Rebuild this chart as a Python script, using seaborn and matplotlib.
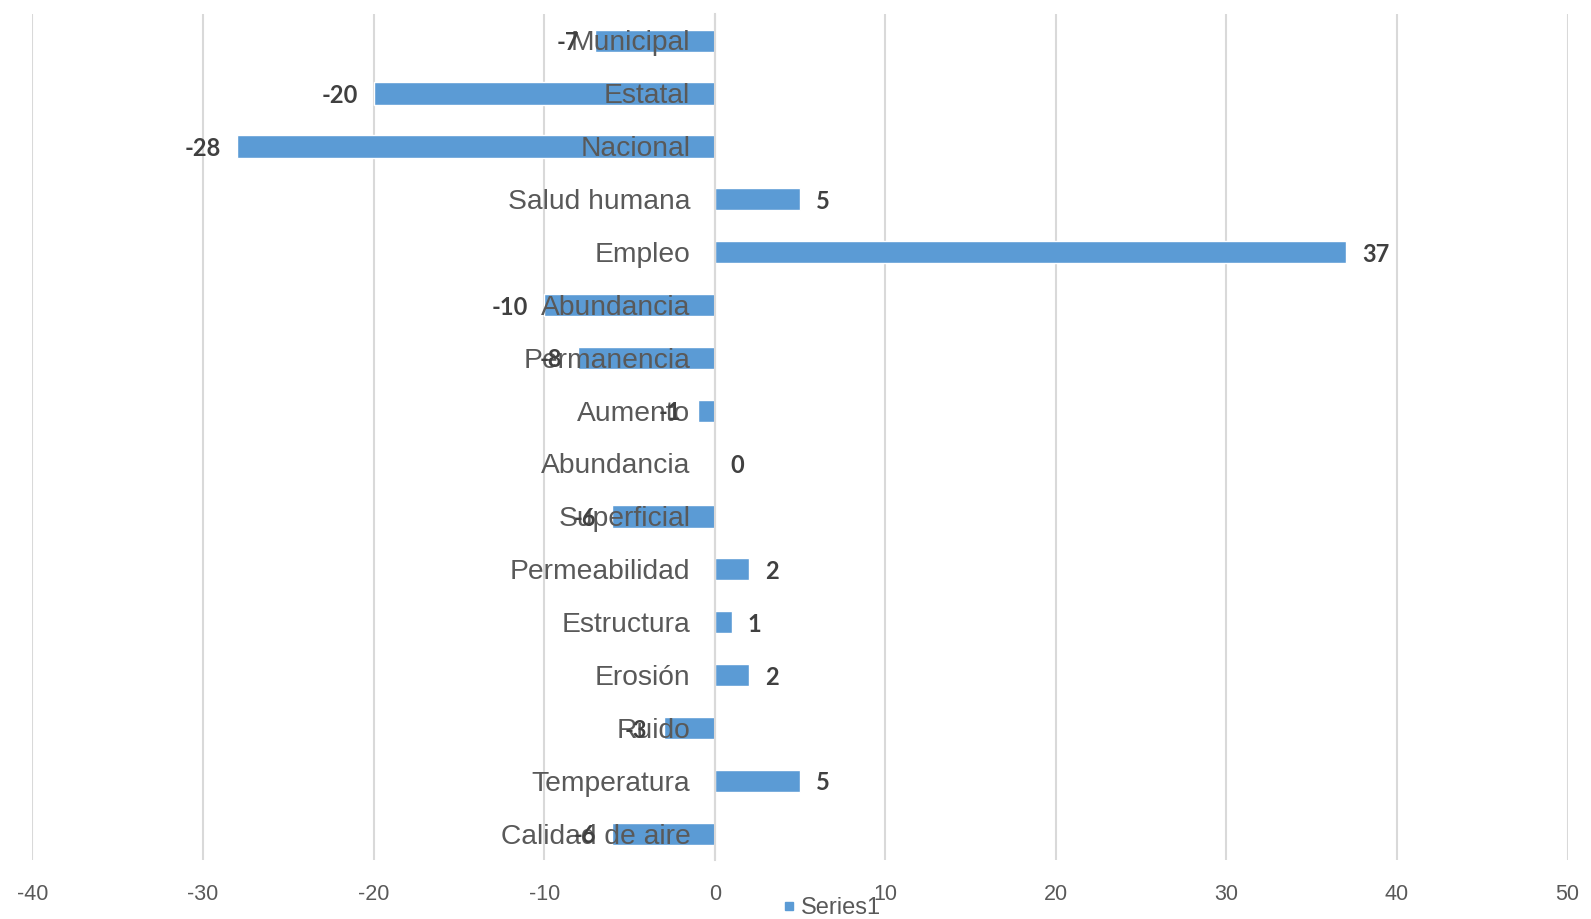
import matplotlib
matplotlib.use("Agg")
import matplotlib.pyplot as plt
from matplotlib.lines import Line2D
import numpy as np
import pandas as pd
import seaborn as sns

# Categories listed from top to bottom of the chart
categories = ["Municipal", "Estatal", "Nacional", "Salud humana", "Empleo",
              "Abundancia", "Permanencia", "Aumento", "Abundancia", "Superficial",
              "Permeabilidad", "Estructura", "Erosión", "Ruido", "Temperatura",
              "Calidad de aire"]
values = [-7, -20, -28, 5, 37, -10, -8, -1, 0, -6, 2, 1, 2, -3, 5, -6]
x_ticks = [-40, -30, -20, -10, 0, 10, 20, 30, 40, 50]
series_name = "Series1"

BAR = "#5b9bd5"
GRID = "#d9d9d9"
TXT = "#595959"

sns.set_theme(style="white")
plt.rcParams["font.family"] = ["Liberation Sans", "DejaVu Sans"]

df = pd.DataFrame({"pos": np.arange(len(categories)), "value": values})

fig = plt.figure(figsize=(15.91, 9.19), dpi=100)
ax = fig.add_axes([0.0204, 0.064, 0.9649, 0.9205])

sns.barplot(data=df, x="value", y="pos", orient="h", color=BAR,
            saturation=1, width=0.42, ax=ax)

ax.set_xlim(-40, 50)
ax.set_ylim(len(categories) - 0.5, -0.5)
ax.set_xticks(x_ticks)
ax.set_xticklabels([str(t) for t in x_ticks], fontsize=15.5, color=TXT)
ax.tick_params(axis="x", length=0, pad=17)
ax.grid(axis="x", color=GRID, linewidth=1.5)
ax.set_axisbelow(True)
ax.set_xlabel("")
ax.set_ylabel("")

for side in ["top", "right", "bottom"]:
    ax.spines[side].set_visible(False)
ax.spines["left"].set_position(("data", 0))
ax.spines["left"].set_color(GRID)
ax.spines["left"].set_linewidth(1.5)
ax.spines["left"].set_zorder(3)

# Tick marks at category boundaries on the zero line
ax.set_yticks(np.arange(len(categories)))
ax.set_yticklabels([])
ax.set_yticks(np.arange(len(categories) + 1) - 0.5, minor=True)
ax.tick_params(axis="y", which="major", length=0)
ax.tick_params(axis="y", which="minor", length=5, width=1.5, color=GRID,
               direction="out")

# Category names right-aligned against the zero line, drawn over the bars
for i, name in enumerate(categories):
    ax.annotate(name, xy=(0, i), xytext=(-17.6, -2), textcoords="offset points",
                ha="right", va="center", fontsize=20.3, color=TXT, zorder=5)

# Value labels at bar ends
for cont in ax.containers:
    labels = ax.bar_label(cont, labels=[str(v) for v in values], padding=11.5,
                          fontsize=17, fontweight="bold", color="#404040",
                          family=["Lato", "DejaVu Sans"])
    for t in labels:
        t.set_zorder(6)
        dx, dy = t.xyann
        t.xyann = (dx, dy - 1.5)

handle = Line2D([], [], marker="s", linestyle="none", markersize=6,
                markerfacecolor=BAR, markeredgecolor=BAR)
fig.legend([handle], [series_name], loc="center", bbox_to_anchor=(0.522, 0.012),
           frameon=False, fontsize=17, labelcolor=TXT, handletextpad=0.1,
           handlelength=0.8, borderpad=0)

fig.savefig("out.png", dpi=100)
